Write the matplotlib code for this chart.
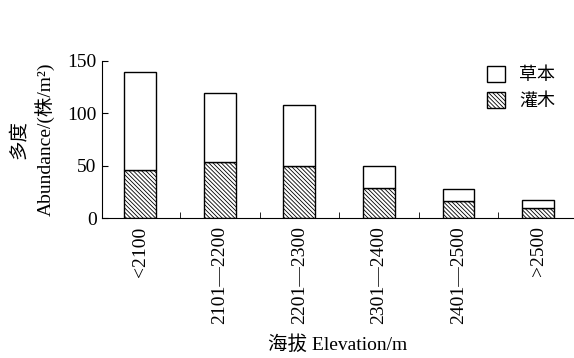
import numpy as np
import matplotlib
matplotlib.use("Agg")
import matplotlib.pyplot as plt

plt.rcParams['font.family'] = ['Liberation Serif', 'Noto Sans CJK SC']
plt.rcParams['hatch.linewidth'] = 0.6
plt.rcParams['hatch.color'] = '#333333'

# 海拔分组
categories = ['<2100', '2101—2200', '2201—2300', '2301—2400', '2401—2500', '>2500']
# 灌木 和 草本 多度 (株/m2)
shrub = [46, 53, 50, 29, 16.5, 9.5]
herb = [93, 66, 58, 21, 11, 7.5]

fig = plt.figure(figsize=(5.74, 3.58), dpi=100)
ax = fig.add_axes([0.178, 0.391, 0.822, 0.439])

x = np.arange(len(categories))
w = 0.4
ax.bar(x, shrub, w, color='white', edgecolor='black', hatch='\\' * 8, linewidth=1.0, label='灌木')
ax.bar(x, herb, w, bottom=shrub, color='white', edgecolor='black', linewidth=1.0, label='草本')

ax.set_xlim(-0.477, 5.45)
ax.set_ylim(0, 150)
ax.set_yticks([0, 50, 100, 150])
ax.set_xticks(x)
ax.set_xticklabels(categories, rotation=90)
ax.set_xticks(x[:-1] + 0.5, minor=True)
ax.tick_params(axis='x', which='major', length=0, labelsize=14, pad=6)
ax.tick_params(axis='x', which='minor', direction='in', length=4)
ax.tick_params(axis='y', direction='in', length=4, labelsize=14, pad=4)

ax.spines['top'].set_visible(False)
ax.spines['right'].set_visible(False)

ax.set_ylabel('多度\nAbundance/(株/m²)', fontsize=14, linespacing=1.45, labelpad=9)
ax.set_xlabel('海拔 Elevation/m', fontsize=14, labelpad=8)

h, l = ax.get_legend_handles_labels()
ax.legend(h[::-1], l[::-1], loc='upper right', bbox_to_anchor=(0.995, 1.07), frameon=False,
          fontsize=13, handlelength=1.0, handleheight=1.0, handletextpad=0.8, labelspacing=0.4)

fig.savefig('out.png', dpi=100)
